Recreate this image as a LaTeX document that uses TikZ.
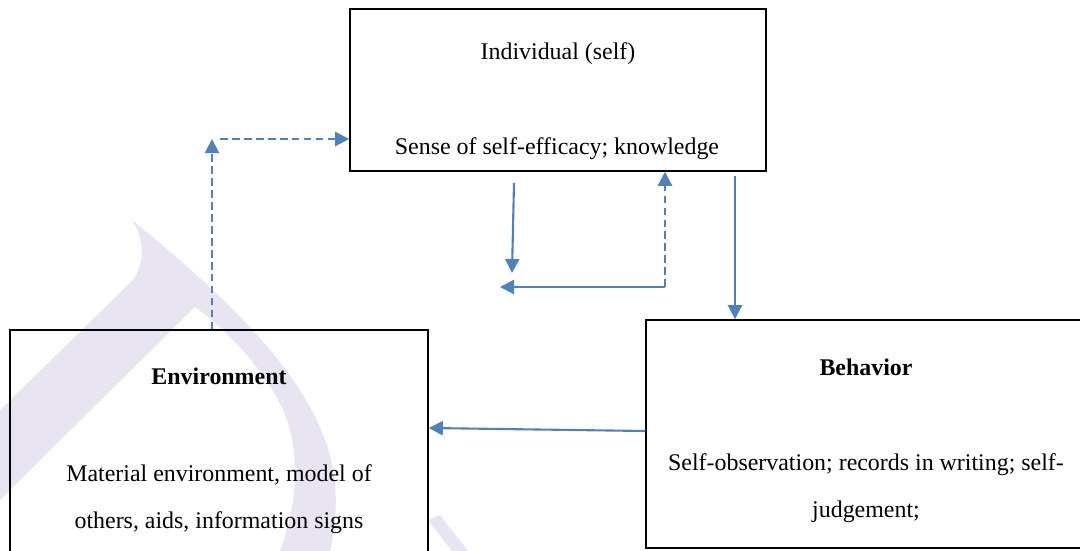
\documentclass[tikz,border=0pt]{standalone}
\usepackage{fontspec}
\setmainfont{Liberation Serif}
\usetikzlibrary{arrows.meta, positioning, calc}
\definecolor{linkblue}{RGB}{79,129,189}
\definecolor{wmark}{RGB}{233,228,242}
\newcommand\boxfont{\fontsize{17}{34}\selectfont}

\begin{document}
\begin{tikzpicture}[
		x=0.025cm, y=-0.025cm,
		font=\boxfont,
		% Boxes of the three factors
		factor/.style={draw=black, line width=1pt, inner sep=0pt},
		% Texts inside the boxes
		head/.style={anchor=base, inner sep=0pt, font=\boxfont},
		bold head/.style={head, font=\boxfont\bfseries},
		body/.style={anchor=north, align=center, inner sep=0pt, font=\boxfont},
		% Connectors
		link/.style={draw=linkblue, line width=1.5pt, -{Triangle[length=10pt,width=10pt]}},
		dlink/.style={link, dash pattern=on 5.5pt off 3pt}
	]
	\useasboundingbox (0,0) rectangle (1080,551);
	\clip (0,0) rectangle (1080,551);

	% watermark in the back
	\fill[wmark] (0,410) -- (133,280) .. controls (145,262) and (145,240) .. (132,220)
		.. controls (230,300) and (300,370) .. (325,440)
		.. controls (340,480) and (337,520) .. (330,551) -- (280,551)
		.. controls (295,510) and (300,470) .. (290,430)
		.. controls (280,390) and (240,340) .. (195,307) -- (0,500) -- cycle;
	\fill[wmark] (428,520) -- (440,515) -- (468,551) -- (452,551) -- cycle;

	% ==============================================================================
	% Boxes
	% ==============================================================================
	\node[factor, minimum width=10.4cm, minimum height=4.05cm] (indiv) at (558,90) {};
	\node[factor, minimum width=10.45cm, minimum height=5.75cm] (env) at (219,445) {};
	\node[factor, minimum width=11cm, minimum height=5.7cm] (behav) at (866,434) {};

	\node[head] (indiv-title) at (558,60) {Individual (self)};
	\node[head] (indiv-text) at (557,155) {Sense of self-efficacy; knowledge};

	\node[bold head] (env-title) at (219,384) {Environment};
	\node[body] (env-text) at (219,464) {Material environment, model of \\ others, aids, information signs};

	\node[bold head] (behav-title) at (866,375) {Behavior};
	\node[body] (behav-text) at (866,453) {Self-observation; records in writing; self- \\ judgement;};

	% ==============================================================================
	% Connectors
	% ==============================================================================
	\coordinate (corner) at (212,139);
	\draw[dlink] (env.north -| corner) -- (corner);
	\draw[dlink] ($(corner)+(8,0)$) -- (corner -| indiv.west);

	\coordinate (drop) at (514,183);
	\coordinate (drop-end) at (512,273);
	\draw[link] (drop) -- (drop-end);

	\coordinate (turn) at (665,287);
	\coordinate (turn-end) at (500,287);
	\draw[dlink] (turn) -- (turn |- indiv.south);
	\draw[link] (turn) -- (turn-end);

	\coordinate (fall) at (735,176);
	\draw[link] (fall) -- (fall |- behav.north);

	\draw[link] (behav.west |- 0,431) -- (env.east |- 0,428);
\end{tikzpicture}
\end{document}
